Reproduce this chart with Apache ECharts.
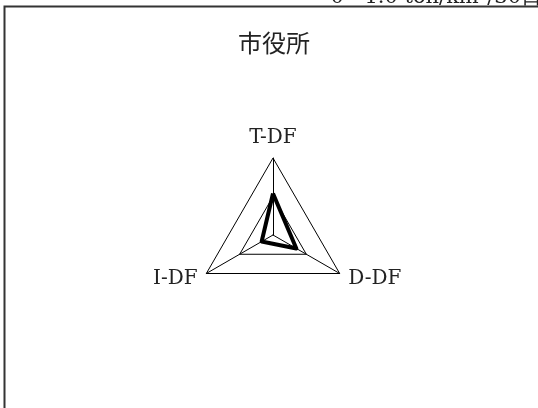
<!DOCTYPE html>
<html>
<head>
<meta charset="utf-8">
<script src="https://cdn.jsdelivr.net/npm/echarts@6/dist/echarts.min.js"></script>
<style>html,body{margin:0;padding:0;background:#fff}#c{width:538px;height:408px}</style>
</head>
<body>
<div id="c"></div>
<script>
const titleText = '市役所';
const scaleText = '0 - 1.0 ton/km²/30日';
const indicatorNames = ['T-DF', 'I-DF', 'D-DF'];
const indicatorMax = [1.0, 1.0, 1.0];
const seriesValues = [0.54, 0.17, 0.35];

const chart = echarts.init(document.getElementById('c'), null, {renderer: 'canvas'});
chart.setOption({
  backgroundColor: '#fff',
  animation: false,
  graphic: [
    {type: 'rect', shape: {x: 4.5, y: 6.5, width: 700, height: 700},
     style: {fill: 'none', stroke: '#333', lineWidth: 2}, silent: true},
    {type: 'text', x: 542, y: 8,
     style: {text: scaleText, fill: '#222', font: '21px "DejaVu Serif", serif',
             textAlign: 'right', textVerticalAlign: 'bottom'}},
    {type: 'text', x: 274, y: 43,
     style: {text: titleText, fill: '#222', font: '24px "Noto Sans CJK JP", sans-serif',
             textAlign: 'center', textVerticalAlign: 'middle'}}
  ],
  radar: {
    center: [273, 235],
    radius: 77,
    startAngle: 90,
    shape: 'polygon',
    splitNumber: 2,
    nameGap: 10,
    axisName: {color: '#222', fontSize: 20, fontFamily: '"DejaVu Serif", serif'},
    axisLine: {lineStyle: {color: '#000', width: 1}},
    splitLine: {lineStyle: {color: '#000', width: 1}},
    splitArea: {show: false},
    axisTick: {show: false},
    axisLabel: {show: false},
    indicator: indicatorNames.map((n, i) => ({name: n, max: indicatorMax[i], min: 0}))
  },
  series: [{
    type: 'radar',
    symbol: 'none',
    lineStyle: {color: '#000', width: 4},
    itemStyle: {color: '#000'},
    data: [{value: seriesValues, name: titleText}]
  }]
});
</script>
</body>
</html>
